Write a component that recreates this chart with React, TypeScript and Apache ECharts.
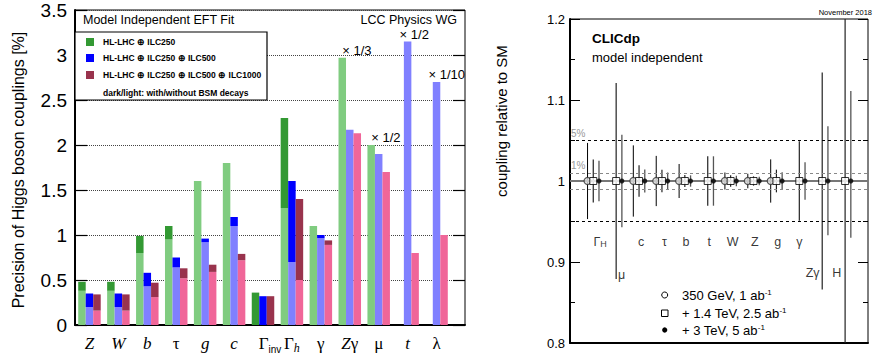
import React, { useEffect, useRef } from 'react';
import * as echarts from 'echarts';

const FONT = '"Liberation Sans", Arial, Helvetica, sans-serif';
const SERIF = '"Liberation Serif", "Times New Roman", serif';

// ---------- Left panel: precision of Higgs couplings [%] ----------
const categories = ['Z', 'W', 'b', 'τ', 'g', 'c', 'Γinv', 'Γh', 'γ', 'Zγ', 'μ', 't', 'λ'];
// dark = with BSM decays, light = without BSM decays
const greenWith = [0.48, 0.48, 0.99, 1.10, 1.60, 1.80, 0.36, 2.30, 1.10, 2.97, 2.00, null, null];
const greenWithout = [0.38, 0.38, 0.80, 0.95, 1.60, 1.80, 0, 1.30, 1.10, 2.97, 2.00, null, null];
const blueWith = [0.35, 0.35, 0.58, 0.75, 0.96, 1.20, 0.32, 1.60, 1.00, 2.17, 1.90, 3.15, 2.70];
const blueWithout = [0.20, 0.20, 0.43, 0.64, 0.92, 1.10, 0, 0.70, 0.965, 2.17, 1.90, 3.15, 2.70];
const redWith = [0.34, 0.34, 0.47, 0.63, 0.67, 0.79, 0.32, 1.40, 0.94, 2.13, 1.70, 0.80, 1.00];
const redWithout = [0.16, 0.16, 0.31, 0.52, 0.59, 0.72, 0, 0.50, 0.89, 2.13, 1.70, 0.80, 1.00];
// [category, scenario index (0 green, 1 blue, 2 red), note]
const scaleNotes: [string, number, string][] = [
  ['Zγ', 0, '× 1/3'],
  ['μ', 0, '× 1/2'],
  ['t', 1, '× 1/2'],
  ['λ', 1, '× 1/10'],
];
const noteOffsets: Record<string, number> = { 'Zγ': 0, 'μ': 0, 't': -8, 'λ': -8 };
const legendLeft = [
  'HL-LHC ⊕ ILC250',
  'HL-LHC ⊕ ILC250 ⊕ ILC500',
  'HL-LHC ⊕ ILC250 ⊕ ILC500 ⊕ ILC1000',
];

// ---------- Right panel: CLICdp coupling relative to SM ----------
const couplings = ['ΓH', 'μ', 'c', 'τ', 'b', 't', 'W', 'Z', 'g', 'γ', 'Zγ', 'H'];
const err350 = [4.7, null, 4.4, 3.1, 2.1, null, 1.05, 0.9, 2.67, null, null, null];
const err1400 = [2.65, 12.1, 1.95, 1.4, 0.74, 3.05, 0.7, 0.57, 1.4, 4.9, 13.4, 30];
const err3000Up = [2.5, 5.7, 1.42, 1.05, 0.7, 3.05, 0.65, 0.53, 1.07, 2.33, 6.75, 11.1];
const err3000Down = [2.5, 5.7, 1.42, 1.05, 0.7, 3.05, 0.65, 0.53, 1.07, 2.33, 6.7, 7.0];
const legendRight = [
  '350 GeV, 1 ab{sup|-1}',
  '+ 1.4 TeV, 2.5 ab{sup|-1}',
  '+ 3 TeV, 5 ab{sup|-1}',
];

const COLORS = {
  greenDark: '#339933', greenLight: '#80cc80',
  blueDark: '#0000ff', blueLight: '#8080ff',
  redDark: '#99334d', redLight: '#f06699',
};

const xLabelRich: Record<string, string> = {
  'Z': '{it|Z}', 'W': '{it|W}', 'b': '{it|b}', 'τ': '{gr|τ}', 'g': '{it|g}', 'c': '{it|c}',
  'Γinv': '{sp|}{gr|Γ}{sub|inv}', 'Γh': '{gr|Γ}{subi|h}', 'γ': '{gr|γ}', 'Zγ': '{it|Z}{gr|γ}',
  'μ': '{gr|μ}', 't': '{it|t}', 'λ': '{gr|λ}',
};

const rightLabelRich: Record<string, string> = {
  'ΓH': 'Γ{sub|H}', 'μ': 'μ', 'c': 'c', 'τ': 'τ', 'b': 'b', 't': 't', 'W': 'W', 'Z': 'Z',
  'g': 'g', 'γ': 'γ', 'Zγ': 'Zγ', 'H': 'H',
};
// label placement (offset from category, y level, alignment) – layout only
const rightLabelPlace: Record<string, [number, number, string]> = {
  'ΓH': [0.05, 0.925, 'center'], 'μ': [-0.17, 0.884, 'left'], 'c': [-0.16, 0.925, 'center'],
  'τ': [-0.14, 0.925, 'center'], 'b': [-0.2, 0.925, 'center'], 't': [-0.19, 0.925, 'center'],
  'W': [-0.16, 0.925, 'center'], 'Z': [-0.19, 0.925, 'center'], 'g': [-0.19, 0.925, 'center'],
  'γ': [-0.25, 0.925, 'center'], 'Zγ': [-0.67, 0.886, 'center'], 'H': [-0.61, 0.886, 'center'],
};

function stackPair(idx: number, withArr: (number | null)[], withoutArr: (number | null)[], light: string, dark: string) {
  const stack = 's' + idx;
  const lightData = withoutArr.map((v, i) => {
    const note = scaleNotes.find((n) => n[1] === idx && categories.indexOf(n[0]) === i);
    if (!note) return v;
    return {
      value: v,
      label: {
        show: true, formatter: note[2], position: 'top', align: 'left', distance: 1,
        offset: [noteOffsets[note[0]], 0], fontSize: 13, color: '#000', fontFamily: FONT,
      },
    };
  });
  const darkData = withArr.map((v, i) => {
    const w = withoutArr[i];
    if (v == null) return null;
    return Math.round((v - (w || 0)) * 1000) / 1000;
  });
  const common = { type: 'bar', xAxisIndex: 0, yAxisIndex: 0, stack, barWidth: 7.5, barGap: '0%', silent: true, z: 3 };
  return [
    { ...common, name: 'light' + idx, data: lightData, itemStyle: { color: light } },
    { ...common, name: 'dark' + idx, data: darkData, itemStyle: { color: dark } },
  ];
}

const X_MIN = -1.266;
const X_MAX = 11.75;

function errBars(ups: (number | null)[], downs: (number | null)[], dx: number, color: string, width: number) {
  const data = ups
    .map((u, i) => (u == null ? null : [i + dx, 1 - (downs[i] as number) / 100, 1 + u / 100]))
    .filter(Boolean);
  return {
    type: 'custom', xAxisIndex: 1, yAxisIndex: 3, silent: true, z: 4,
    data, encode: { x: 0, y: [1, 2] },
    renderItem: (params: any, api: any) => {
      const x = api.value(0), lo = api.value(1), hi = api.value(2);
      const a = api.coord([x, hi]);
      const b = api.coord([x, lo]);
      const cs = params.coordSys;
      const y1 = Math.max(a[1], cs.y);
      const y2 = Math.min(b[1], cs.y + cs.height);
      return { type: 'line', shape: { x1: a[0], y1, x2: a[0], y2 }, style: { stroke: color, lineWidth: width } };
    },
  };
}

function markers(errs: (number | null)[], dx: number, symbol: string, size: number, style: any) {
  return {
    type: 'scatter', xAxisIndex: 1, yAxisIndex: 3, silent: true, z: 6,
    symbol, symbolSize: size, itemStyle: style,
    data: errs.map((e, i) => (e == null ? null : [i + dx, 1])).filter(Boolean),
  };
}

export default function App() {
  const ref = useRef<HTMLDivElement>(null);
  useEffect(() => {
    if (!ref.current) return;
    const chart = echarts.init(ref.current, null, { renderer: 'svg' });

    const option: any = {
      animation: false,
      backgroundColor: '#fff',
      textStyle: { fontFamily: FONT },
      grid: [
        { left: 75, top: 10, width: 376, height: 315, show: false },
        { left: 75, top: 10, width: 390, height: 315, show: true, borderColor: '#000', borderWidth: 1, backgroundColor: 'transparent' },
        { left: 570, top: 19, width: 298, height: 324, show: true, borderColor: '#000', borderWidth: 1, backgroundColor: 'transparent' },
      ],
      xAxis: [
        {
          type: 'category', gridIndex: 0, data: categories,
          axisLine: { show: false }, axisTick: { show: false },
          axisLabel: {
            margin: 7, interval: 0, color: '#000',
            formatter: (v: string) => xLabelRich[v] || v,
            rich: {
              it: { fontFamily: SERIF, fontStyle: 'italic', fontSize: 17, color: '#000', lineHeight: 22 },
              gr: { fontFamily: SERIF, fontSize: 17, color: '#000', lineHeight: 22 },
              sp: { width: 14 },
              sub: { fontFamily: FONT, fontSize: 10, color: '#000', verticalAlign: 'bottom', lineHeight: 12 },
              subi: { fontFamily: SERIF, fontStyle: 'italic', fontSize: 12, color: '#000', verticalAlign: 'bottom', lineHeight: 12 },
            },
          },
        },
        {
          type: 'value', gridIndex: 2, min: X_MIN, max: X_MAX,
          axisLine: { show: true, onZero: false, lineStyle: { color: '#000', width: 2 } },
          axisTick: { show: false }, axisLabel: { show: false }, splitLine: { show: false },
        },
        {
          type: 'value', gridIndex: 1, min: 0, max: 1,
          axisLine: { show: true, onZero: false, lineStyle: { color: '#000', width: 2 } },
          axisTick: { show: false }, axisLabel: { show: false }, splitLine: { show: false },
        },
      ],
      yAxis: [
        { type: 'value', gridIndex: 0, min: 0, max: 3.5, show: false },
        {
          type: 'value', gridIndex: 1, min: 0, max: 3.5, interval: 0.5,
          axisLine: { show: true, onZero: false, lineStyle: { color: '#000', width: 2 } },
          axisTick: { show: true, inside: true, length: 12, lineStyle: { color: '#000', width: 1.2 } },
          axisLabel: { color: '#000', fontSize: 19, margin: 8, fontFamily: FONT },
          splitLine: { show: true, lineStyle: { color: '#444', type: 'dotted', width: 1 } },
        },
        {
          type: 'value', gridIndex: 1, min: 0, max: 3.5, interval: 0.5, position: 'right',
          axisLine: { show: false, onZero: false },
          axisTick: { show: true, inside: true, length: 12, lineStyle: { color: '#000', width: 1.2 } },
          axisLabel: { show: false }, splitLine: { show: false },
        },
        {
          type: 'value', gridIndex: 2, min: 0.8, max: 1.2, interval: 0.1,
          axisLine: { show: true, onZero: false, lineStyle: { color: '#000', width: 2 } },
          axisTick: { show: true, inside: true, length: 10, lineStyle: { color: '#000', width: 1 } },
          minorTick: { show: true, splitNumber: 2, length: 5, lineStyle: { color: '#000', width: 1 } },
          axisLabel: {
            color: '#000', fontSize: 13, margin: 5, fontFamily: FONT,
            formatter: (v: number) => String(+v.toFixed(2)),
          },
          splitLine: { show: false },
        },
        {
          type: 'value', gridIndex: 2, min: 0.8, max: 1.2, interval: 0.1, position: 'right',
          axisLine: { show: false, onZero: false },
          axisTick: { show: true, inside: true, length: 10, lineStyle: { color: '#000', width: 1 } },
          minorTick: { show: true, splitNumber: 2, length: 5, lineStyle: { color: '#000', width: 1 } },
          axisLabel: { show: false }, splitLine: { show: false },
        },
      ],
      series: [
        ...stackPair(0, greenWith, greenWithout, COLORS.greenLight, COLORS.greenDark),
        ...stackPair(1, blueWith, blueWithout, COLORS.blueLight, COLORS.blueDark),
        ...stackPair(2, redWith, redWithout, COLORS.redLight, COLORS.redDark),
        {
          type: 'line', xAxisIndex: 1, yAxisIndex: 3, data: [], silent: true, z: 1,
          markLine: {
            silent: true, symbol: ['none', 'none'], animation: false,
            data: [
              { yAxis: 1.05, lineStyle: { color: '#000', type: [3, 3], width: 1 }, label: { show: true, formatter: '5%', position: 'insideStartTop', distance: [1, 2], color: '#999', fontSize: 10, fontFamily: FONT } },
              { yAxis: 0.95, lineStyle: { color: '#000', type: [3, 3], width: 1 }, label: { show: false } },
              { yAxis: 1.01, lineStyle: { color: '#888', type: [3, 3], width: 1 }, label: { show: true, formatter: '1%', position: 'insideStartTop', distance: [1, 2], color: '#999', fontSize: 10, fontFamily: FONT } },
              { yAxis: 0.99, lineStyle: { color: '#888', type: [3, 3], width: 1 }, label: { show: false } },
              { yAxis: 1.0, lineStyle: { color: '#777', type: 'solid', width: 2 }, label: { show: false } },
            ],
          },
        },
        errBars(err350, err350, -0.5, '#000', 1),
        errBars(err1400, err1400, -0.25, '#222', 1.2),
        errBars(err3000Up, err3000Down, 0, '#555', 1.3),
        markers(err350, -0.5, 'circle', 7, { color: '#ddd', borderColor: '#333', borderWidth: 1.2 }),
        markers(err1400, -0.25, 'rect', 7, { color: '#fff', borderColor: '#000', borderWidth: 1 }),
        markers(err3000Up, 0, 'circle', 5, { color: '#000' }),
        {
          type: 'scatter', xAxisIndex: 1, yAxisIndex: 3, silent: true, z: 7, symbolSize: 0,
          data: couplings.map((c, i) => {
            const p = rightLabelPlace[c];
            return {
              value: [i + p[0], p[1]],
              label: {
                show: true, position: 'inside', align: p[2], formatter: rightLabelRich[c],
                fontSize: 12.5, color: '#000', fontFamily: FONT,
                rich: { sub: { fontSize: 9, color: '#000', verticalAlign: 'bottom', lineHeight: 10 } },
              },
            };
          }),
        },
      ],
      graphic: [
        // left panel texts
        { type: 'text', x: 83, y: 20, z: 100, style: { text: 'Model Independent EFT Fit', fill: '#000', font: `12.5px ${FONT}`, textVerticalAlign: 'middle' } },
        { type: 'text', x: 457, y: 20, z: 100, style: { text: 'LCC Physics WG', fill: '#000', font: `12.5px ${FONT}`, textAlign: 'right', textVerticalAlign: 'middle' } },
        { type: 'text', x: 18, y: 170, rotation: Math.PI / 2, z: 100, style: { text: 'Precision of Higgs boson couplings [%]', fill: '#000', font: `16px ${FONT}`, textAlign: 'center', textVerticalAlign: 'middle' } },
        // left legend box
        { type: 'rect', z: 100, shape: { x: 75, y: 32, width: 192, height: 68 }, style: { fill: '#fff', stroke: '#000', lineWidth: 1.2 } },
        { type: 'rect', z: 101, shape: { x: 86, y: 38, width: 8, height: 8 }, style: { fill: COLORS.greenDark } },
        { type: 'rect', z: 101, shape: { x: 86, y: 54, width: 8, height: 8 }, style: { fill: COLORS.blueDark } },
        { type: 'rect', z: 101, shape: { x: 86, y: 71, width: 8, height: 8 }, style: { fill: COLORS.redDark } },
        ...legendLeft.map((t, i) => ({
          type: 'text', x: 103, y: [42.3, 58.3, 75][i], z: 101,
          style: { text: t, fill: '#000', font: `bold 8.5px ${FONT}`, textVerticalAlign: 'middle' },
        })),
        { type: 'text', x: 103, y: 93, z: 101, style: { text: 'dark/light: with/without BSM decays', fill: '#000', font: `bold 8.5px ${FONT}`, textVerticalAlign: 'middle' } },
        // right panel texts
        { type: 'text', x: 501, y: 121, rotation: Math.PI / 2, z: 100, style: { text: 'coupling relative to SM', fill: '#000', font: `15px ${FONT}`, textAlign: 'center', textVerticalAlign: 'middle' } },
        { type: 'text', x: 872, y: 12, z: 100, style: { text: 'November 2018', fill: '#000', font: `7.5px ${FONT}`, textAlign: 'right', textVerticalAlign: 'middle' } },
        { type: 'text', x: 592, y: 38, z: 100, style: { text: 'CLICdp', fill: '#000', font: `bold 13.5px ${FONT}`, textVerticalAlign: 'middle' } },
        { type: 'text', x: 592, y: 57, z: 100, style: { text: 'model independent', fill: '#000', font: `13px ${FONT}`, textVerticalAlign: 'middle' } },
        // right legend
        { type: 'circle', z: 100, shape: { cx: 664.7, cy: 295, r: 3 }, style: { fill: '#fff', stroke: '#000', lineWidth: 1 } },
        { type: 'rect', z: 100, shape: { x: 661.5, y: 310, width: 6.5, height: 6.5 }, style: { fill: '#fff', stroke: '#000', lineWidth: 1 } },
        { type: 'circle', z: 100, shape: { cx: 664.7, cy: 330, r: 2.6 }, style: { fill: '#000' } },
        ...legendRight.map((t, i) => ({
          type: 'text', x: 682, y: [295, 313, 330][i], z: 100,
          style: {
            text: t, fill: '#000', fontSize: 13, fontFamily: FONT, textVerticalAlign: 'middle',
            rich: { sup: { fontSize: 8, fill: '#000', verticalAlign: 'top', lineHeight: 8, fontFamily: FONT } },
          },
        })),
      ],
    };
    chart.setOption(option);
    return () => chart.dispose();
  }, []);
  return <div ref={ref} style={{ position: 'fixed', left: 0, top: 0, width: 873, height: 361, background: '#fff' }} />;
}
